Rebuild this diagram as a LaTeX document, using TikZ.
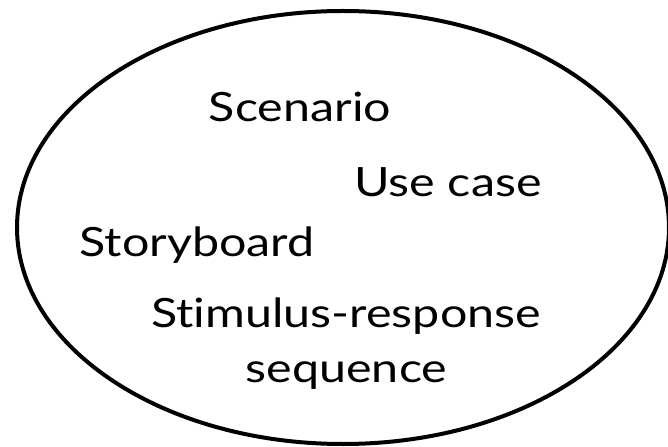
\documentclass[tikz,border=0pt]{standalone}
\usepackage{fontspec}
\setmainfont{Lato}[FakeStretch=1.2,Ligatures=NoCommon]
\begin{document}
\begin{tikzpicture}[x=1bp,y=-1bp,
  term/.style={anchor=base,inner sep=0pt,font=\fontsize{40.5}{46}\selectfont}]
\useasboundingbox (0,0) rectangle (668,447);
% outer boundary
\draw[line width=4bp] (343,227.5) ellipse [x radius=326, y radius=216.5];
% terms inside
\node[term] (scen) at (300,122) {Scenario};
\node[term] (uc) at (448,197) {Use case};
\node[term] (sb) at (197,257) {Storyboard};
\node[term] (sr) at (346,328) {Stimulus-response};
\node[term] (seq) at (346.5,382) {sequence};
\end{tikzpicture}
\end{document}
